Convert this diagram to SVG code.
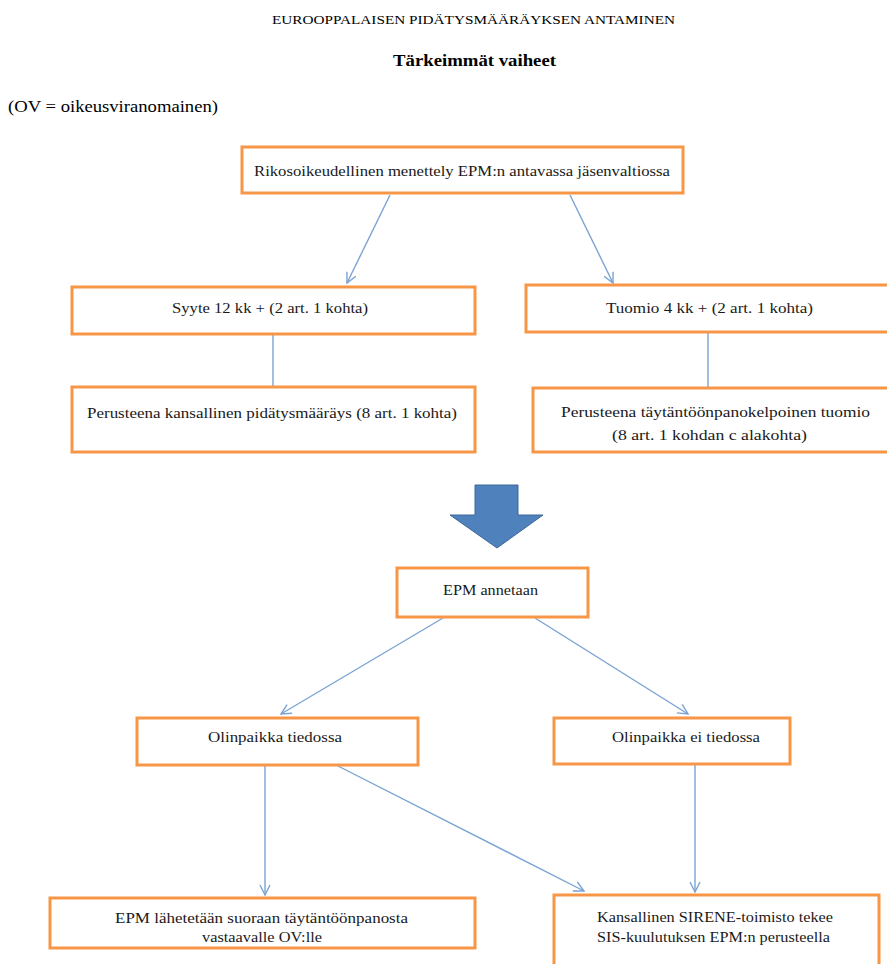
<svg xmlns="http://www.w3.org/2000/svg" width="887" height="964" viewBox="0 0 887 964">
  <style>
    .box { fill: #ffffff; stroke: #F79646; stroke-width: 3; }
    .t { font-size: 15px; fill: #1a1a1a; }
    .link { fill: none; stroke: #7BA3D3; stroke-width: 1.4; }
  </style>
  <defs>
    <marker id="arr" viewBox="0 0 12 12" refX="11" refY="6" markerWidth="12" markerHeight="12" markerUnits="userSpaceOnUse" orient="auto">
      <polyline points="1,1 11,6 1,11" fill="none" stroke="#7BA3D3" stroke-width="1.4"/>
    </marker>
  </defs>
  <rect width="887" height="964" fill="#ffffff"/>

  <g font-family="Liberation Serif, DejaVu Serif, Times New Roman, serif">
  <!-- headings -->
  <text x="272" y="24" font-size="13" textLength="403" lengthAdjust="spacingAndGlyphs">EUROOPPALAISEN PIDÄTYSMÄÄRÄYKSEN ANTAMINEN</text>
  <text x="393" y="66" font-size="17" font-weight="bold" textLength="163" lengthAdjust="spacingAndGlyphs">Tärkeimmät vaiheet</text>
  <text x="8" y="112" font-size="16" textLength="210" lengthAdjust="spacingAndGlyphs">(OV = oikeusviranomainen)</text>

  <!-- connectors -->
  <g id="connectors">
    <line class="link" x1="390" y1="195" x2="347" y2="283" marker-end="url(#arr)"/>
    <line class="link" x1="570" y1="195" x2="613" y2="283" marker-end="url(#arr)"/>
    <line class="link" x1="273" y1="334" x2="273" y2="387"/>
    <line class="link" x1="708" y1="332" x2="708" y2="388"/>
    <line class="link" x1="443" y1="618" x2="281" y2="714" marker-end="url(#arr)"/>
    <line class="link" x1="535" y1="618" x2="688" y2="714" marker-end="url(#arr)"/>
    <line class="link" x1="265" y1="766" x2="265" y2="895" marker-end="url(#arr)"/>
    <line class="link" x1="338" y1="766" x2="584" y2="891" marker-end="url(#arr)"/>
    <line class="link" x1="695" y1="765" x2="695" y2="892" marker-end="url(#arr)"/>
  </g>

  <!-- big block arrow -->
  <g id="block-arrow">
    <polygon points="475,485 518,485 518,515 543,515 497,548 450,515 475,515" fill="#4F81BD" stroke="#3C6799" stroke-width="1"/>
  </g>

  <g id="n-menettely">
    <rect class="box" x="242" y="147" width="441" height="46"/>
    <text class="t" x="254" y="176" textLength="416" lengthAdjust="spacingAndGlyphs">Rikosoikeudellinen menettely EPM:n antavassa jäsenvaltiossa</text>
  </g>
  <g id="n-syyte">
    <rect class="box" x="72" y="287" width="403" height="47"/>
    <text class="t" x="172" y="313" textLength="196" lengthAdjust="spacingAndGlyphs">Syyte 12 kk + (2 art. 1 kohta)</text>
  </g>
  <g id="n-tuomio">
    <rect class="box" x="526" y="285" width="370" height="47"/>
    <text class="t" x="606" y="313" textLength="207" lengthAdjust="spacingAndGlyphs">Tuomio 4 kk + (2 art. 1 kohta)</text>
  </g>
  <g id="n-kansallinen">
    <rect class="box" x="72" y="387" width="403" height="65"/>
    <text class="t" x="87" y="418" textLength="370" lengthAdjust="spacingAndGlyphs">Perusteena kansallinen pidätysmääräys (8 art. 1 kohta)</text>
  </g>
  <g id="n-taytantoonpano">
    <rect class="box" x="533" y="388" width="363" height="64"/>
    <text class="t" x="561" y="417" textLength="309" lengthAdjust="spacingAndGlyphs">Perusteena täytäntöönpanokelpoinen tuomio</text>
    <text class="t" x="612" y="440" textLength="195" lengthAdjust="spacingAndGlyphs">(8 art. 1 kohdan c alakohta)</text>
  </g>
  <g id="n-epm">
    <rect class="box" x="397" y="568" width="191" height="49"/>
    <text class="t" x="443" y="595" textLength="95" lengthAdjust="spacingAndGlyphs">EPM annetaan</text>
  </g>
  <g id="n-tiedossa">
    <rect class="box" x="137" y="718" width="281" height="47"/>
    <text class="t" x="208" y="742" textLength="134" lengthAdjust="spacingAndGlyphs">Olinpaikka tiedossa</text>
  </g>
  <g id="n-ei-tiedossa">
    <rect class="box" x="554" y="718" width="236" height="46"/>
    <text class="t" x="612" y="742" textLength="148" lengthAdjust="spacingAndGlyphs">Olinpaikka ei tiedossa</text>
  </g>
  <g id="n-suoraan">
    <rect class="box" x="50" y="898" width="425" height="50"/>
    <text class="t" x="115" y="923" textLength="293" lengthAdjust="spacingAndGlyphs">EPM lähetetään suoraan täytäntöönpanosta</text>
    <text class="t" x="202" y="942" textLength="120" lengthAdjust="spacingAndGlyphs">vastaavalle OV:lle</text>
  </g>
  <g id="n-sirene">
    <rect class="box" x="554" y="895" width="325" height="80"/>
    <text class="t" x="597" y="922" textLength="236" lengthAdjust="spacingAndGlyphs">Kansallinen SIRENE-toimisto tekee</text>
    <text class="t" x="597" y="942" textLength="233" lengthAdjust="spacingAndGlyphs">SIS-kuulutuksen EPM:n perusteella</text>
  </g>
  </g>
</svg>
